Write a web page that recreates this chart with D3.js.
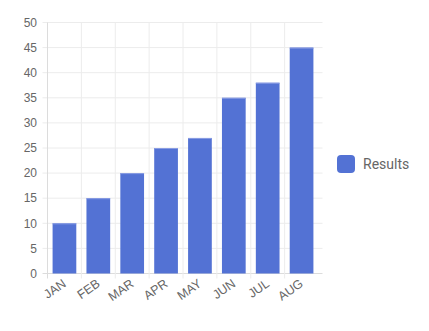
<!DOCTYPE html>
<html>
<head>
<meta charset="utf-8">
<script src="https://cdnjs.cloudflare.com/ajax/libs/d3/7.8.5/d3.min.js"></script>
<style>
  body { margin: 0; background: #fff; }
  svg { display: block; font-family: "Liberation Sans", Arial, sans-serif; }
</style>
</head>
<body>
<div id="chart"></div>
<script>
// data
const months = ['JAN', 'FEB', 'MAR', 'APR', 'MAY', 'JUN', 'JUL', 'AUG'];
const results = [10, 15, 20, 25, 27, 35, 38, 45];
const yTicks = [0, 5, 10, 15, 20, 25, 30, 35, 40, 45, 50];
const seriesName = 'Results';

const width = 429, height = 331;
const margin = { top: 22.5, right: 110.5, bottom: 57.5, left: 47.5 };
const barColor = '#5372d4';

const svg = d3.select('#chart')
    .append('svg')
    .attr('width', width)
    .attr('height', height);

const x = d3.scaleBand()
    .domain(months)
    .range([margin.left, width - margin.right])
    .paddingInner(0.3)
    .paddingOuter(0.15);

const y = d3.scaleLinear()
    .domain([0, 50])
    .range([height - margin.bottom, margin.top]);

const step = x.step();
const x0 = margin.left;
const x1 = width - margin.right;

// grid
const grid = svg.append('g');
grid.selectAll('line.h')
    .data(yTicks)
    .enter()
    .append('line')
    .attr('x1', x0 - 5).attr('x2', x1 + 4)
    .attr('y1', d => y(d)).attr('y2', d => y(d))
    .attr('stroke', d => d === 0 ? '#dcdcdc' : '#ececec')
    .attr('stroke-width', 1);
grid.selectAll('line.v')
    .data(months)
    .enter()
    .append('line')
    .attr('x1', (d, i) => x0 + i * step).attr('x2', (d, i) => x0 + i * step)
    .attr('y1', y(50)).attr('y2', y(0) + 5)
    .attr('stroke', (d, i) => i === 0 ? '#dcdcdc' : '#ececec')
    .attr('stroke-width', 1);

// y tick labels
svg.append('g').selectAll('text')
    .data(yTicks)
    .enter()
    .append('text')
    .attr('x', x0 - 10.5)
    .attr('y', d => y(d))
    .attr('dy', '0.35em')
    .attr('text-anchor', 'end')
    .attr('font-size', 12)
    .attr('fill', '#666')
    .text(d => d);

// bars
const bars = svg.append('g');
bars.selectAll('rect')
    .data(results)
    .enter()
    .append('rect')
    .attr('x', (d, i) => x(months[i]))
    .attr('y', d => y(d))
    .attr('width', x.bandwidth())
    .attr('height', d => y(0) - y(d))
    .attr('fill', barColor);
bars.selectAll('line')
    .data(results)
    .enter()
    .append('line')
    .attr('x1', (d, i) => x(months[i]))
    .attr('x2', (d, i) => x(months[i]) + x.bandwidth())
    .attr('y1', d => y(d) + 0.5)
    .attr('y2', d => y(d) + 0.5)
    .attr('stroke', '#8a9de3')
    .attr('stroke-width', 1);

// x tick labels, rotated
svg.append('g').selectAll('text')
    .data(months)
    .enter()
    .append('text')
    .attr('transform', d => 'translate(' + (x(d) + x.bandwidth() / 2 + 2.5) + ',' + (y(0) + 12) + ') rotate(-35)')
    .attr('text-anchor', 'end')
    .attr('font-size', 12.5)
    .attr('fill', '#666')
    .text(d => d);

// legend
const lg = svg.append('g')
    .attr('transform', 'translate(337,155)')
    .attr('font-family', 'Roboto, sans-serif');
lg.append('rect')
    .attr('width', 18).attr('height', 18)
    .attr('rx', 4).attr('ry', 4)
    .attr('fill', barColor);
lg.append('text')
    .attr('x', 26).attr('y', 9)
    .attr('dy', '0.35em')
    .attr('font-size', 14)
    .attr('fill', '#666')
    .text(seriesName);
</script>
</body>
</html>
